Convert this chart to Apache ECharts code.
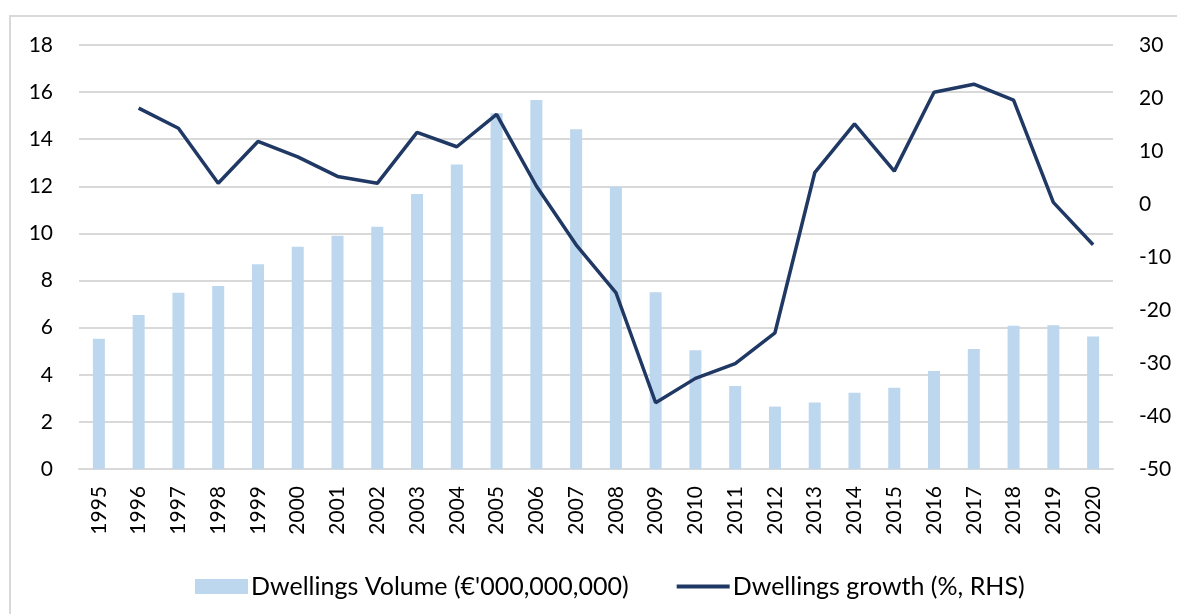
<!DOCTYPE html>
<html>
<head>
<meta charset="utf-8">
<script src="https://cdn.jsdelivr.net/npm/echarts@6/dist/echarts.min.js"></script>
<style>
  html, body { margin: 0; padding: 0; background: #fff; }
  #frame {
    position: absolute; left: 9px; top: 15px; width: 1200px; height: 640px;
    border-left: 2px solid #d9d9d9; border-top: 2px solid #d9d9d9;
  }
  #chart { position: absolute; left: 0; top: 0; width: 1177px; height: 614px; }
</style>
</head>
<body>
<div id="frame"></div>
<div id="chart"></div>
<script>
const years = ['1995', '1996', '1997', '1998', '1999', '2000', '2001', '2002', '2003', '2004',
  '2005', '2006', '2007', '2008', '2009', '2010', '2011', '2012', '2013', '2014',
  '2015', '2016', '2017', '2018', '2019', '2020']

// € bn
const volume = [5.53, 6.54, 7.48, 7.77, 8.69, 9.44, 9.90, 10.28, 11.67, 12.93,
  15.10, 15.66, 14.42, 11.98, 7.50, 5.04, 3.52, 2.65, 2.82, 3.24,
  3.45, 4.16, 5.09, 6.08, 6.10, 5.63]

// % y/y, RHS
const growth = [null, 18.1, 14.3, 3.9, 11.8, 8.9, 5.2, 3.9, 13.5, 10.8,
  16.9, 3.4, -7.7, -16.7, -37.5, -32.9, -30.1, -24.3, 5.9, 15.1,
  6.2, 21.1, 22.6, 19.6, 0.3, -7.7]

const leftTicks = { min: 0, max: 18, interval: 2 }
const rightTicks = { min: -50, max: 30, interval: 10 }

const font = 'Lato, "Liberation Sans", sans-serif'
const chart = echarts.init(document.getElementById('chart'))

const option = {
  animation: false,
  textStyle: { fontFamily: font },
  grid: { left: 79, right: 64, top: 45, bottom: 145 },
  legend: {
    left: 190,
    top: 569,
    itemGap: 46,
    itemWidth: 53,
    itemHeight: 15,
    textStyle: { fontSize: 25, color: '#000', fontFamily: font, padding: [0, 0, 0, -2] },
    data: [
      { name: "Dwellings Volume (€'000,000,000)", icon: 'rect' },
      {
        name: 'Dwellings growth (%, RHS)',
        itemStyle: { opacity: 0 },
        lineStyle: { width: 4, color: '#203864' }
      }
    ]
  },
  xAxis: {
    type: 'category',
    data: years,
    axisTick: { show: false },
    axisLine: { lineStyle: { color: '#d9d9d9', width: 2 } },
    axisLabel: { rotate: 90, fontSize: 21, color: '#000', margin: 17, interval: 0, fontFamily: font }
  },
  yAxis: [
    {
      type: 'value',
      ...leftTicks,
      axisLine: { show: false },
      axisTick: { show: false },
      splitLine: { lineStyle: { color: '#d9d9d9', width: 2 } },
      axisLabel: { fontSize: 21, color: '#000', margin: 26, fontFamily: font }
    },
    {
      type: 'value',
      ...rightTicks,
      position: 'right',
      axisLine: { show: false },
      axisTick: { show: false },
      splitLine: { show: false },
      axisLabel: { fontSize: 21, color: '#000', margin: 26, fontFamily: font }
    }
  ],
  series: [
    {
      name: "Dwellings Volume (€'000,000,000)",
      type: 'bar',
      yAxisIndex: 0,
      barWidth: 12,
      itemStyle: { color: '#bdd7ee' },
      data: volume
    },
    {
      name: 'Dwellings growth (%, RHS)',
      type: 'line',
      yAxisIndex: 1,
      showSymbol: false,
      symbol: 'none',
      lineStyle: { color: '#203864', width: 3.5 },
      itemStyle: { color: '#203864' },
      data: growth
    }
  ]
}

chart.setOption(option)
</script>
</body>
</html>
